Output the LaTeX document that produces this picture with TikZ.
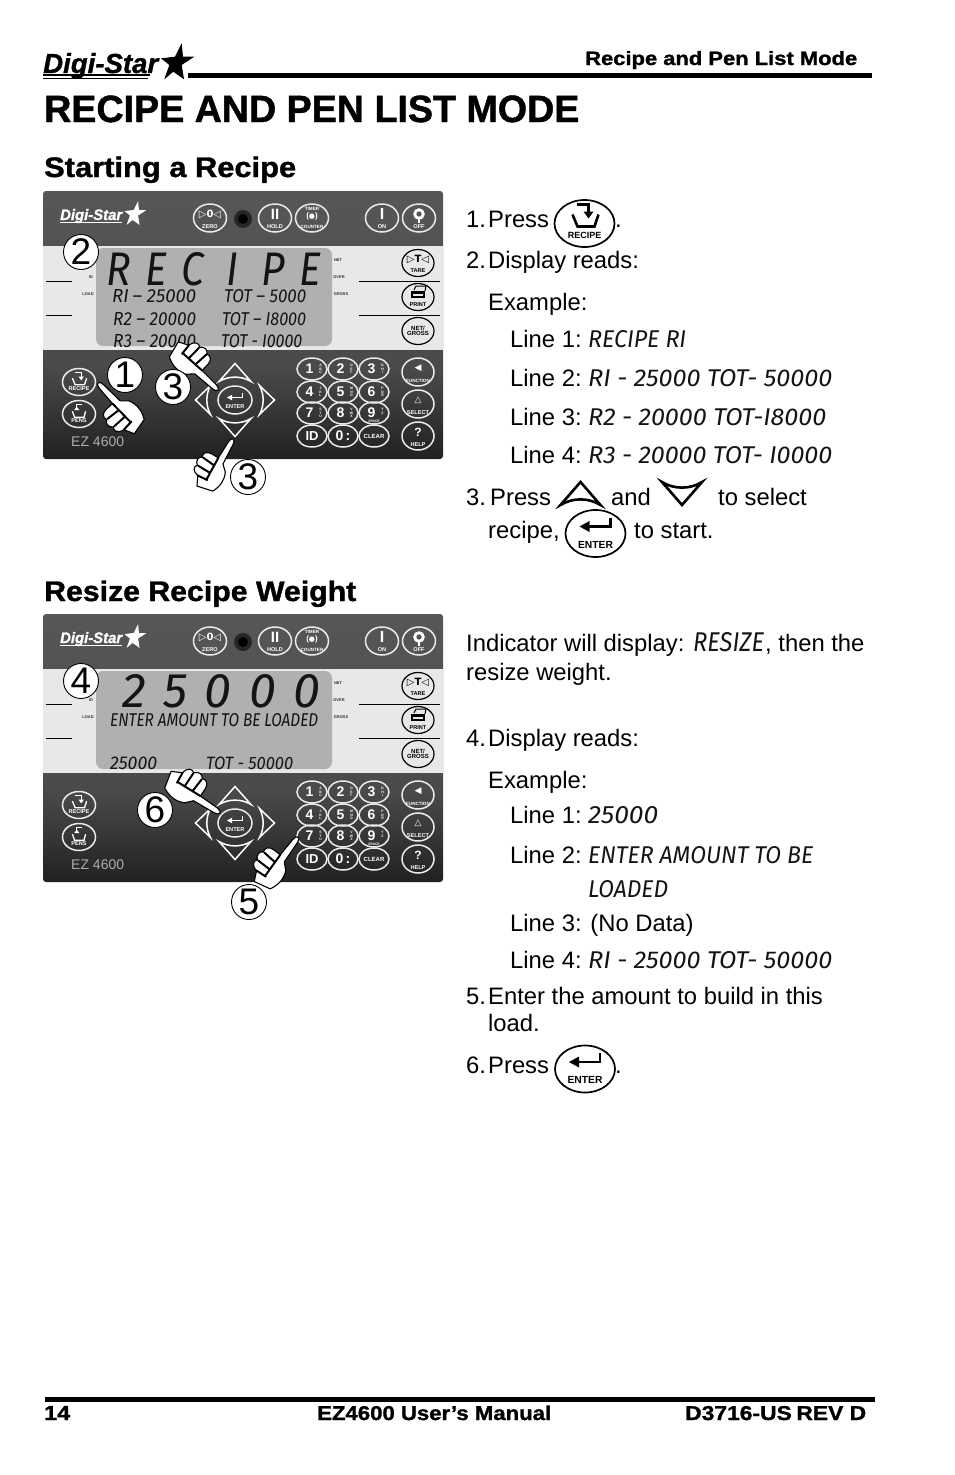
\documentclass[tikz,border=0pt]{standalone}
\usepackage{fontspec}
\usepackage{graphicx}
\usetikzlibrary{shapes.geometric,arrows.meta}
\setmainfont{Liberation Sans}
\newfontfamily\lcdf{Fira Sans Italic}
\newfontfamily\djf{DejaVu Sans}
\newfontfamily\hdf[FakeBold=1.2]{Liberation Sans Bold}
\newfontfamily\hdi[FakeBold=1.2]{Liberation Sans Bold Italic}
\definecolor{pbot}{gray}{0.13}
\definecolor{pmid}{gray}{0.29}
\definecolor{ptop}{gray}{0.34}
\definecolor{bandc}{gray}{0.91}
\pgfdeclareverticalshading{panelsh}{100bp}{color(0bp)=(pbot);color(25bp)=(pbot);color(42bp)=(pmid);color(75bp)=(ptop);color(100bp)=(ptop)}
\newcommand\fs[1]{\fontsize{#1}{#1}\selectfont}
\newcommand\lbl[3]{\node[anchor=base west,inner sep=0pt,text=black] at (#1,#2) {\fs{23.8}#3};}
\newcommand\bfit[5]{\node[anchor=base west,inner sep=0pt,text=black] at (#1,#2) {\resizebox{#3pt}{#4pt}{\hdf #5}};}
\newcommand\lfit[6][black!92]{\node[anchor=base west,inner sep=0pt,text=#1] at (#2,#3) {\resizebox{#4pt}{#5pt}{\lcdf #6}};}
\newcommand\lstar[4]{\begin{scope}[shift={(#1,#2)},scale=#3]
  \fill[#4] (4.7,-18.7) -- (6,-5.3) -- (17.3,-5.3) -- (4.7,3) -- (7,17.3) -- (-3.7,9.7) -- (-12.7,17.3) -- (-7.7,3) -- (-16,-3.7) -- (-2,-5.3) -- cycle;
  \end{scope}}
\newcommand\pbtn[6]{\draw[btn] (#1,#2) ellipse [x radius=#3,y radius=#4];
  \node[btnlab] at (#1,#2-4) {#5};\node[btnlab] at (#1,#2+#4-5.5) {#6};}
\newcommand\kp[6]{\draw[btn] (#1,#2) ellipse [x radius=15,y radius=11];
  \node[btnlab,font=\bfseries\fs{14}] at (#1-2.5,#2) {#3};
  \node[btnlab,font=\bfseries\fs{3.4}] at (#1+8.5,#2) {#4\\[0.1pt]#5\\[0.1pt]#6};}
\newcommand\tri[7]{\begin{scope}[shift={(#1,#2)},rotate=#3]
  \draw[draw=#6,line width=#7pt,miter limit=10] (-#4,#5) -- (0,-#5) -- (#4,#5) .. controls (#4*0.4,#5*0.35) and (-#4*0.4,#5*0.35) .. cycle;
  \end{scope}}
\newcommand\recipeicon[5]{\begin{scope}[shift={(#1,#2)},scale=#3]
  \draw[draw=#4,line width=#5pt] (-8,-17) -- (4,-17) -- (4,-9);
  \fill[#4] (-1,-10) -- (9,-10) -- (4,-3) -- cycle;
  \draw[draw=#4,line width=#5pt] (-12,-7) -- (-7,5) -- (10,5) -- (14,-7);
  \end{scope}}
\newcommand\pensicon[5]{\begin{scope}[shift={(#1,#2)},scale=#3]
  \draw[draw=#4,line width=#5pt] (6,-17) -- (-4,-17) -- (-4,-7);
  \fill[#4] (-9,-7) -- (1,-7) -- (-4,-13) -- cycle;
  \draw[draw=#4,line width=#5pt] (-12,-5) -- (-8,6) -- (9,6) -- (12,-5);
  \end{scope}}
\newcommand\entericon[5]{\begin{scope}[shift={(#1,#2)},scale=#3]
  \draw[draw=#4,line width=#5pt] (15,-16) -- (15,-7) -- (-7,-7);
  \fill[#4] (-16,-7) -- (-6,-12.5) -- (-6,-1.5) -- cycle;
  \end{scope}}
\newcommand\hand[4]{\begin{scope}[shift={(#1,#2)},rotate=#3,scale=#4]
  \draw[handline,fill=white] (0,0) .. controls (2,0) and (2.8,2) .. (3,5) -- (4.5,28) -- (11,34)
     .. controls (15,42) and (14,50) .. (10,58) -- (-7,62) -- (-12,52)
     .. controls (-19,51) and (-21,46) .. (-18,43) .. controls (-22,40) and (-22,35) .. (-18,33)
     .. controls (-20,29) and (-17,25) .. (-11,25) -- (-3,25) -- (-2.6,5) .. controls (-2.4,2) and (-1.5,0) .. cycle;
  \draw[handline,line width=2pt,line cap=round] (-17,33) -- (-3,34) (-17,43) -- (-3,43) (-12,52) -- (-1,51) (-3,25) -- (-2,50);
  \end{scope}}
\newcommand\stepn[4]{\node[circle,draw=black,fill=#4,line width=0.9pt,minimum size=35pt,inner sep=0pt,font=\fs{37},text=black] at (#1,#2) {#3};}
\tikzset{
  btn/.style={draw=white!92!black,line width=1.5pt},
  btnlab/.style={text=white,font=\bfseries\fs{5.6},inner sep=0pt,align=center},
  handline/.style={draw=black,line width=1.1pt,line join=round},
  tiny/.style={text=black!80,font=\bfseries\fs{4},inner sep=0pt},
  rule/.style={draw=black,line width=0.6pt},
}
\newcommand\panel{%
  \shade[shading=panelsh,rounded corners=3pt] (43,191) rectangle (443,459);
  \fill[bandc] (43,246) rectangle (443,350);
  \draw[rule] (46,281) -- (72,281) (46,315) -- (72,315) (359,281) -- (440,281) (359,315) -- (440,315);
  \fill[black!31,rounded corners=7pt] (96,248) rectangle (332,346);
  \node[tiny] at (91,277) {ID};\node[tiny] at (88,294) {LOAD};
  \node[tiny] at (338,260) {NET};\node[tiny] at (339,277) {OVER};\node[tiny] at (341,294) {GROSS};
  % logo
  \node[anchor=base west,inner sep=0pt,text=white] at (60,220) {\resizebox{62pt}{11pt}{\hdi Digi-Star}};
  \draw[white,line width=1pt] (60,222.5) -- (122,222.5);
  \lstar{135}{213.5}{0.66}{white}
  % top row
  \fill[black!85] (243,219) circle (9);\fill[black] (243,219) circle (5);
  \pbtn{210}{218}{16.5}{14}{\djf\fs{10}▷0◁}{ZERO}
  \pbtn{275}{218}{16.5}{14}{\bfseries\fs{15}II}{HOLD}
  \pbtn{312}{218}{16.5}{14}{\fs{4.6}TIMER\\[1pt]\bfseries\fs{8}(\raisebox{0.4pt}{\djf\fs{7}●})}{\fs{4.6}COUNTER}
  \pbtn{382}{218}{16.5}{14}{\bfseries\fs{16}I}{ON}
  \draw[white,line width=2.8pt] (419,214) circle (4.3);
  \draw[white,line width=1.3pt] (419,218) -- (419,223);
  \pbtn{419}{218}{16.5}{14}{}{OFF}
  % right column (dark on the light band)
  \begin{scope}[btn/.style={draw=black,line width=1.2pt},btnlab/.append style={text=black}]
  \pbtn{418}{263}{16}{13.5}{\djf\fs{10}▷T◁}{TARE}
  \pbtn{418}{297}{16}{13.5}{}{PRINT}
  \fill[black] (411,291) rectangle (425,298);\fill[bandc] (413,293.5) rectangle (423,296);
  \draw[black,line width=1pt] (414,290) -- (416,286) -- (426,286) -- (425,291);
  \draw[btn] (418,331) ellipse [x radius=16,y radius=13.5];
  \node[btnlab,font=\bfseries\fs{6}] at (418,331) {NET/\\[-0.5pt]GROSS};
  \end{scope}
  % left column
  \draw[btn] (79,382) ellipse [x radius=16.5,y radius=13.5];
  \recipeicon{79}{382}{0.55}{white}{1.3}
  \node[btnlab] at (79,388.5) {RECIPE};
  \draw[btn] (79,414) ellipse [x radius=16.5,y radius=13.5];
  \pensicon{79}{414}{0.55}{white}{1.3}
  \node[btnlab] at (79,420.5) {PENS};
  \node[anchor=base west,inner sep=0pt,text=black!32,font=\fs{14}] at (71,446) {EZ 4600};
  % d-pad
  \tri{235}{372.5}{0}{16}{9}{white}{1.5}
  \tri{235}{427.5}{180}{16}{9}{white}{1.5}
  \tri{203}{400}{90}{14.5}{7.5}{white}{1.5}
  \tri{267}{400}{-90}{14.5}{7.5}{white}{1.5}
  \draw[btn] (235,400) ellipse [x radius=17,y radius=14];
  \entericon{235}{401}{0.5}{white}{1.3}
  \node[btnlab] at (235,406.5) {ENTER};
  % keypad
  \kp{312}{369}{1}{A}{B}{C}\kp{343}{369}{2}{D}{E}{F}\kp{374}{369}{3}{G}{H}{I}
  \kp{312}{392}{4}{J}{K}{L}\kp{343}{392}{5}{M}{N}{O}\kp{374}{392}{6}{P}{Q}{R}
  \kp{312}{413}{7}{S}{T}{U}\kp{343}{413}{8}{V}{W}{X}\kp{374}{413}{9}{Y}{Z}{}
  \node[btnlab,font=\bfseries\fs{3.4}] at (374,421.5) {SPACE};
  \draw[btn] (312,436) ellipse [x radius=15,y radius=11];
  \node[btnlab,font=\bfseries\fs{13}] at (312,436) {ID};
  \draw[btn] (343,436) ellipse [x radius=15,y radius=11];
  \node[btnlab,font=\bfseries\fs{14}] at (343,436) {0\,:};
  \draw[btn] (374,436) ellipse [x radius=15,y radius=11];
  \node[btnlab,font=\bfseries\fs{6}] at (374,436) {CLEAR};
  % right lower column
  \pbtn{418}{372}{16}{14}{\djf\fs{9}◀}{\fs{4.6}FUNCTION}
  \pbtn{418}{404}{16}{14}{\djf\fs{9}△}{SELECT}
  \pbtn{418}{436}{16}{14}{\fs{12}?}{HELP}
}
\begin{document}
\begin{tikzpicture}[x=1pt,y=-1pt]
\useasboundingbox (0,0) rectangle (954,1475);
\fill[white] (0,0) rectangle (954,1475);
% header
\node[anchor=base west,inner sep=0pt] at (43,73) {\resizebox{115pt}{20pt}{\hdi Digi-Star}};
\draw[black,line width=1.6pt] (43,75) -- (150,75);\draw[black,line width=1pt] (43,78) -- (148,78);
\lstar{177}{62}{1}{black}
\draw[black,line width=4.5pt] (188,75.5) -- (872,75.5);
\bfit{585}{65}{272}{14}{Recipe and Pen List Mode}
\bfit{44}{122}{535}{26.5}{RECIPE AND PEN LIST MODE}
\bfit{44}{177}{252}{20.5}{Starting a Recipe}
\bfit{44}{601}{312}{20.5}{Resize Recipe Weight}
% first panel
\panel
\lfit{106}{285}{215}{33}{R\kern3.6pt E\kern3.6pt C\kern5.5pt I\kern5.5pt P\kern3.6pt E}
\lfit{112}{302}{84}{13}{RI\kern2pt – 25000}
\lfit{224}{302}{82}{13}{TOT – 5000}
\lfit{113}{325}{83}{13}{R2 – 20000}
\lfit{222}{325}{84}{13}{TOT – I8000}
\lfit{113}{347}{83}{13}{R3 – 20000}
\lfit{221}{347}{81}{13}{TOT - I0000}
\hand{98}{383}{42}{1}
\hand{218}{390}{226}{1}
\stepn{81}{252}{2}{white}
\stepn{125}{375}{1}{white}
\stepn{173}{387}{3}{white}
\hand{233}{439}{-31}{0.95}
\stepn{248}{477}{3}{white}
% second panel
\begin{scope}[shift={(0,423)}]
\panel
\lfit{122}{284}{198}{33}{2\kern3.6pt 5\kern3.6pt 0\kern3.6pt 0\kern3.6pt 0}
\lfit{110}{303}{208}{13}{ENTER AMOUNT TO BE LOADED}
\lfit{110}{346}{47}{12.5}{25000}
\lfit{206}{346}{87}{12.5}{TOT - 50000}
\hand{220}{390}{236}{1.03}
\hand{298}{414}{-38}{1}
\stepn{81}{258}{4}{white}
\stepn{155}{387}{6}{white}
\stepn{249}{479}{5}{white}
\end{scope}
% instructions 1
\lbl{466}{227}{1.}\lbl{488}{227}{Press}
\draw[black,line width=1.7pt] (584.5,223.5) ellipse [x radius=30,y radius=23.5];
\recipeicon{584.5}{221.5}{1}{black}{2.6}
\node[inner sep=0pt,font=\bfseries\fs{9}] at (584.5,235.5) {RECIPE};
\lbl{615}{227}{.}
\lbl{466}{268}{2.}\lbl{488}{268}{Display reads:}
\lbl{488}{310}{Example:}
\lbl{510}{347}{Line 1:}\lfit{588}{347}{98}{17}{RECIPE RI}
\lbl{510}{386}{Line 2:}\lfit{588}{386}{244}{17}{RI - 25000 TOT- 50000}
\lbl{510}{425}{Line 3:}\lfit{588}{425}{238}{17}{R2 - 20000 TOT-I8000}
\lbl{510}{463}{Line 4:}\lfit{588}{463}{244}{17}{R3 - 20000 TOT- I0000}
\lbl{466}{505}{3.}\lbl{490}{505}{Press}
\tri{580.5}{493.5}{0}{20}{11.5}{black}{2.6}
\lbl{611}{505}{and}
\tri{682}{493.5}{180}{20}{11.5}{black}{2.6}
\lbl{718}{505}{to select}
\lbl{488}{538}{recipe,}
\draw[black,line width=1.7pt] (595.5,533.5) ellipse [x radius=30,y radius=23.5];
\entericon{595.5}{533.5}{1}{black}{2.6}
\node[inner sep=0pt,font=\bfseries\fs{10.3}] at (595.5,544.5) {ENTER};
\lbl{634}{538}{to start.}
% instructions 2
\lbl{466}{651}{Indicator will display:}\lfit{693}{651}{71}{19}{RESIZE}\lbl{765}{651}{, then the}
\lbl{466}{680}{resize weight.}
\lbl{466}{746}{4.}\lbl{488}{746}{Display reads:}
\lbl{488}{788}{Example:}
\lbl{510}{823}{Line 1:}\lfit{588}{823}{70}{17}{25000}
\lbl{510}{863}{Line 2:}\lfit{588}{863}{225}{17}{ENTER AMOUNT TO BE}
\lfit{588}{897}{80}{17}{LOADED}
\lbl{510}{931}{Line 3: (No Data)}
\lbl{510}{968}{Line 4:}\lfit{588}{968}{244}{17}{RI - 25000 TOT- 50000}
\lbl{466}{1004}{5.}\lbl{488}{1004}{Enter the amount to build in this}
\lbl{488}{1031}{load.}
\lbl{466}{1073}{6.}\lbl{488}{1073}{Press}
\draw[black,line width=1.7pt] (585,1069) ellipse [x radius=30,y radius=23.5];
\entericon{585}{1069}{1}{black}{2.6}
\node[inner sep=0pt,font=\bfseries\fs{10.3}] at (585,1080) {ENTER};
\lbl{615}{1073}{.}
% footer
\draw[black,line width=4.5pt] (45,1399.5) -- (875,1399.5);
\bfit{44}{1420}{26}{14}{14}
\bfit{317}{1420}{234}{14.5}{EZ4600 User’s Manual}
\bfit{685}{1420}{181}{14}{D3716-US\kern2pt REV D}
\end{tikzpicture}
\end{document}
